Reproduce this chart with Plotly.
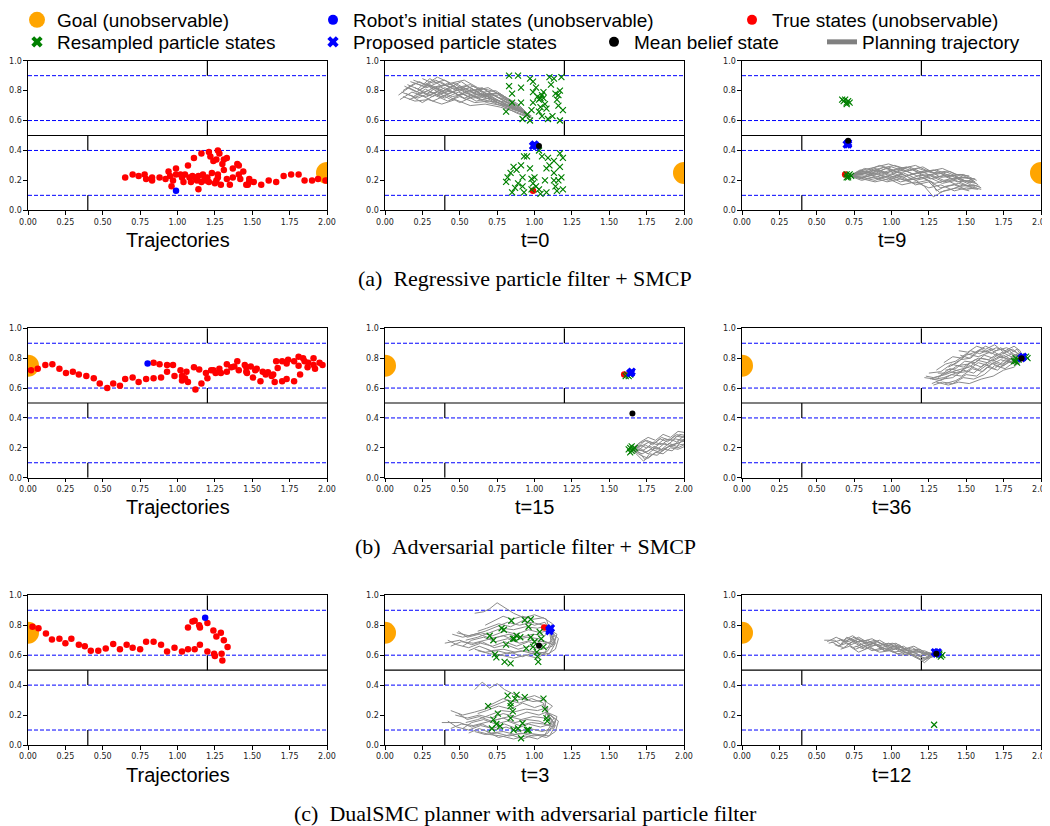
import plotly.graph_objects as go

# page body adds an 8px margin: the figure is drawn 8px smaller and offset
PAGE_W, PAGE_H, OFF = 1050, 826, 8
W, H = PAGE_W - OFF, PAGE_H - OFF

# ---------------- text ----------------
panel_titles = ["Trajectories", "t=0", "t=9",
                "Trajectories", "t=15", "t=36",
                "Trajectories", "t=3", "t=12"]
captions = ["(a)\u2002Regressive particle filter + SMCP",
            "(b)\u2002Adversarial particle filter + SMCP",
            "(c)\u2002DualSMC planner with adversarial particle filter"]
legend_names = ["Goal (unobservable)", "Robot\u2019s initial states (unobservable)",
                "True states (unobservable)", "Resampled particle states",
                "Proposed particle states", "Mean belief state", "Planning trajectory"]
x_ticks = [0.0, 0.25, 0.5, 0.75, 1.0, 1.25, 1.5, 1.75, 2.0]
y_ticks = [0.0, 0.2, 0.4, 0.6, 0.8, 1.0]

# ---------------- environment ----------------
dashed_levels = [0.1, 0.4, 0.6, 0.9]
wall_levels = [0.5]
wall_segments = [(1.2, 0.9, 1.0), (1.2, 0.5, 0.6), (0.4, 0.4, 0.5), (0.4, 0.0, 0.1)]
goal_right = [(2.0, 0.25)]
goal_left = [(0.0, 0.75)]

# ---------------- (a) regressive PF + SMCP ----------------
a1_true = [(0.65,0.22),(0.70,0.24),(0.74,0.23),(0.78,0.24),(0.79,0.21),(0.83,0.20),(0.83,0.22),
           (0.88,0.22),(0.92,0.21),(0.94,0.26),(0.95,0.23),(0.96,0.16),(0.97,0.20),(0.99,0.28),
           (0.99,0.24),(1.02,0.24),(1.03,0.22),(1.04,0.19),(1.05,0.24),(1.07,0.30),(1.08,0.22),
           (1.09,0.19),(1.10,0.23),(1.11,0.35),(1.12,0.22),(1.13,0.20),(1.14,0.14),(1.14,0.23),
           (1.16,0.38),(1.16,0.19),(1.17,0.24),(1.18,0.22),(1.19,0.20),(1.20,0.22),(1.21,0.39),
           (1.21,0.19),(1.22,0.36),(1.23,0.25),(1.24,0.33),(1.25,0.18),(1.26,0.20),(1.26,0.34),
           (1.27,0.24),(1.27,0.22),(1.27,0.40),(1.28,0.38),(1.29,0.17),(1.30,0.31),(1.31,0.27),
           (1.31,0.34),(1.33,0.21),(1.33,0.35),(1.35,0.17),(1.37,0.22),(1.37,0.28),(1.40,0.31),
           (1.41,0.30),(1.41,0.24),(1.42,0.21),(1.44,0.26),(1.46,0.17),(1.47,0.17),(1.48,0.21),
           (1.48,0.19),(1.51,0.19),(1.56,0.17),(1.61,0.20),(1.66,0.19),(1.71,0.23),(1.76,0.24),
           (1.81,0.24),(1.85,0.20),(1.90,0.20),(1.94,0.21),(1.99,0.20)]
a1_init = [(0.99, 0.13)]

a2_plan = [
    [(0.10,0.74),(0.18,0.79),(0.27,0.76),(0.36,0.80),(0.45,0.76),(0.55,0.78),(0.65,0.74),(0.75,0.72),(0.85,0.68),(0.95,0.64)],
    [(0.12,0.80),(0.20,0.85),(0.28,0.82),(0.37,0.86),(0.46,0.81),(0.55,0.83),(0.64,0.78),(0.73,0.77),(0.83,0.71),(0.96,0.63)],
    [(0.15,0.84),(0.22,0.81),(0.30,0.88),(0.38,0.83),(0.47,0.85),(0.56,0.80),(0.66,0.81),(0.76,0.75),(0.86,0.70),(0.97,0.62)],
    [(0.18,0.76),(0.25,0.72),(0.33,0.77),(0.42,0.73),(0.50,0.76),(0.60,0.72),(0.70,0.73),(0.80,0.69),(0.90,0.66),(0.97,0.63)],
    [(0.20,0.82),(0.28,0.78),(0.36,0.83),(0.44,0.79),(0.53,0.82),(0.62,0.77),(0.71,0.78),(0.81,0.73),(0.90,0.68),(0.98,0.62)],
    [(0.25,0.88),(0.32,0.85),(0.40,0.87),(0.48,0.82),(0.57,0.84),(0.66,0.79),(0.74,0.80),(0.83,0.74),(0.92,0.67),(0.97,0.63)],
    [(0.14,0.78),(0.22,0.75),(0.31,0.79),(0.40,0.75),(0.49,0.79),(0.58,0.75),(0.68,0.76),(0.78,0.71),(0.88,0.67),(0.96,0.64)],
    [(0.22,0.80),(0.30,0.84),(0.39,0.80),(0.47,0.84),(0.56,0.79),(0.65,0.82),(0.74,0.76),(0.84,0.73),(0.93,0.66),(0.98,0.63)],
    [(0.28,0.76),(0.35,0.79),(0.44,0.74),(0.52,0.78),(0.61,0.73),(0.70,0.75),(0.79,0.70),(0.88,0.68),(0.95,0.63)],
    [(0.17,0.86),(0.26,0.83),(0.34,0.87),(0.43,0.82),(0.51,0.86),(0.60,0.80),(0.69,0.82),(0.79,0.76),(0.89,0.70),(0.97,0.62)],
    [(0.30,0.82),(0.38,0.78),(0.46,0.82),(0.55,0.76),(0.63,0.80),(0.72,0.74),(0.82,0.72),(0.91,0.66),(0.98,0.62)],
    [(0.12,0.76),(0.20,0.73),(0.29,0.74),(0.38,0.71),(0.47,0.74),(0.57,0.70),(0.67,0.71),(0.77,0.69),(0.87,0.66),(0.95,0.63)],
    [(0.09,0.77),(0.16,0.82),(0.24,0.78),(0.33,0.82),(0.42,0.78),(0.51,0.81),(0.60,0.76),(0.70,0.77),(0.80,0.71),(0.90,0.67),(0.96,0.63)],
    [(0.13,0.83),(0.21,0.79),(0.29,0.84),(0.38,0.79),(0.46,0.83),(0.55,0.78),(0.64,0.80),(0.74,0.74),(0.84,0.70),(0.93,0.65)],
    [(0.19,0.87),(0.27,0.84),(0.35,0.89),(0.44,0.85),(0.53,0.87),(0.62,0.82),(0.71,0.80),(0.80,0.76),(0.89,0.71),(0.97,0.63)],
    [(0.16,0.74),(0.24,0.77),(0.32,0.73),(0.41,0.77),(0.50,0.72),(0.59,0.76),(0.68,0.72),(0.78,0.70),(0.88,0.65),(0.96,0.62)],
    [(0.24,0.79),(0.32,0.76),(0.41,0.81),(0.49,0.77),(0.58,0.81),(0.67,0.76),(0.76,0.77),(0.85,0.71),(0.94,0.65)],
    [(0.11,0.79),(0.19,0.76),(0.27,0.81),(0.35,0.77),(0.44,0.80),(0.53,0.75),(0.62,0.78),(0.72,0.73),(0.82,0.70),(0.92,0.65),(0.97,0.63)],
    [(0.27,0.85),(0.34,0.81),(0.42,0.85),(0.51,0.80),(0.59,0.83),(0.68,0.78),(0.77,0.78),(0.86,0.72),(0.95,0.65)],
    [(0.21,0.77),(0.29,0.80),(0.37,0.76),(0.46,0.79),(0.54,0.74),(0.63,0.78),(0.72,0.75),(0.82,0.70),(0.91,0.67),(0.97,0.62)],
    [(0.14,0.81),(0.23,0.86),(0.31,0.82),(0.40,0.84),(0.48,0.80),(0.57,0.82),(0.66,0.77),(0.75,0.78),(0.85,0.72),(0.94,0.66)],
    [(0.32,0.78),(0.40,0.82),(0.49,0.77),(0.57,0.80),(0.66,0.75),(0.75,0.74),(0.84,0.69),(0.92,0.66),(0.97,0.62)],
]
a2_resampled = [(0.83,0.90),(0.89,0.90),(0.83,0.83),(0.85,0.78),(0.91,0.82),(0.81,0.66),(0.85,0.72),
                (0.91,0.72),(0.92,0.61),(0.95,0.64),(0.97,0.60),(0.97,0.88),(0.99,0.86),(0.99,0.79),
                (0.99,0.72),(1.01,0.82),(1.02,0.76),(1.03,0.66),(1.04,0.69),(1.05,0.63),(1.06,0.79),
                (1.06,0.75),(1.07,0.71),(1.08,0.68),(1.09,0.61),(1.10,0.89),(1.11,0.84),(1.12,0.63),
                (1.13,0.88),(1.14,0.78),(1.15,0.74),(1.16,0.70),(1.17,0.80),(1.17,0.60),(1.18,0.89),
                (1.19,0.67),(1.03,0.74),(1.04,0.75),(0.98,0.67),(1.05,0.77),(1.16,0.77),
                (0.93,0.36),(0.95,0.36),(1.03,0.40),(1.05,0.36),(1.09,0.35),(1.13,0.33),(1.17,0.38),
                (1.19,0.35),(0.86,0.29),(0.88,0.27),(0.84,0.25),(0.81,0.19),(0.82,0.22),(0.91,0.30),
                (0.92,0.22),(0.92,0.16),(0.93,0.12),(0.85,0.12),(0.87,0.15),(0.89,0.18),(0.97,0.28),
                (0.98,0.21),(1.00,0.22),(1.01,0.16),(1.03,0.14),(1.04,0.11),(1.08,0.12),(1.07,0.20),
                (1.08,0.28),(1.10,0.30),(1.13,0.25),(1.14,0.16),(1.15,0.13),(1.16,0.20),(1.17,0.29),
                (1.18,0.22),(1.19,0.14),(1.13,0.20),(0.99,0.18),(0.98,0.14)]
a2_proposed = [(0.99,0.43),(1.00,0.44),(1.01,0.43)]
a2_mean = [(1.03,0.43)]
a2_true = [(0.99,0.13)]

a3_plan = [
    [(0.72,0.23),(0.80,0.26),(0.88,0.24),(0.96,0.28),(1.05,0.25),(1.14,0.27),(1.23,0.23),(1.32,0.25),(1.41,0.21),(1.50,0.22),(1.56,0.19)],
    [(0.72,0.23),(0.80,0.21),(0.89,0.25),(0.98,0.22),(1.07,0.24),(1.16,0.20),(1.25,0.22),(1.34,0.18),(1.43,0.20),(1.52,0.16),(1.60,0.14)],
    [(0.72,0.23),(0.81,0.27),(0.90,0.29),(0.98,0.31),(1.07,0.28),(1.16,0.30),(1.25,0.26),(1.34,0.28),(1.43,0.24),(1.52,0.23)],
    [(0.72,0.23),(0.80,0.22),(0.89,0.20),(0.97,0.23),(1.06,0.19),(1.15,0.21),(1.22,0.16),(1.28,0.09),(1.35,0.13),(1.44,0.15),(1.52,0.13)],
    [(0.72,0.23),(0.81,0.25),(0.90,0.22),(0.99,0.26),(1.08,0.22),(1.17,0.25),(1.26,0.21),(1.35,0.23),(1.44,0.19),(1.53,0.20),(1.58,0.17)],
    [(0.72,0.23),(0.82,0.28),(0.91,0.26),(1.00,0.29),(1.09,0.26),(1.18,0.28),(1.27,0.25),(1.36,0.26),(1.45,0.22),(1.55,0.21)],
    [(0.72,0.23),(0.80,0.20),(0.88,0.22),(0.97,0.19),(1.06,0.21),(1.15,0.18),(1.24,0.20),(1.33,0.15),(1.42,0.17),(1.50,0.14),(1.57,0.15)],
    [(0.72,0.23),(0.81,0.24),(0.90,0.27),(0.99,0.24),(1.08,0.27),(1.17,0.23),(1.26,0.24),(1.35,0.20),(1.44,0.22),(1.53,0.18)],
    [(0.72,0.23),(0.80,0.25),(0.89,0.23),(0.98,0.20),(1.07,0.23),(1.16,0.17),(1.25,0.19),(1.32,0.12),(1.40,0.14),(1.48,0.17),(1.56,0.16)],
    [(0.72,0.23),(0.82,0.26),(0.92,0.30),(1.01,0.27),(1.10,0.29),(1.19,0.25),(1.28,0.27),(1.37,0.23),(1.46,0.24),(1.55,0.20)],
    [(0.72,0.23),(0.79,0.27),(0.87,0.25),(0.95,0.29),(1.03,0.26),(1.12,0.29),(1.21,0.25),(1.30,0.27),(1.39,0.23),(1.48,0.24),(1.57,0.20)],
    [(0.72,0.23),(0.81,0.22),(0.90,0.24),(0.99,0.21),(1.08,0.25),(1.17,0.21),(1.26,0.23),(1.35,0.19),(1.44,0.21),(1.53,0.17),(1.59,0.16)],
    [(0.72,0.23),(0.80,0.24),(0.89,0.28),(0.97,0.25),(1.06,0.28),(1.15,0.24),(1.24,0.27),(1.33,0.22),(1.42,0.23),(1.51,0.19),(1.57,0.18)],
    [(0.72,0.23),(0.81,0.21),(0.89,0.19),(0.98,0.21),(1.07,0.17),(1.16,0.19),(1.25,0.15),(1.33,0.17),(1.42,0.13),(1.50,0.15),(1.58,0.14)],
    [(0.72,0.23),(0.80,0.26),(0.90,0.24),(1.00,0.27),(1.10,0.23),(1.20,0.26),(1.29,0.22),(1.38,0.24),(1.47,0.20),(1.55,0.19)],
    [(0.72,0.23),(0.82,0.25),(0.92,0.28),(1.02,0.30),(1.12,0.27),(1.21,0.29),(1.30,0.24),(1.39,0.26),(1.48,0.22),(1.56,0.21)],
    [(0.72,0.23),(0.81,0.23),(0.91,0.21),(1.01,0.24),(1.11,0.20),(1.20,0.22),(1.29,0.18),(1.37,0.20),(1.46,0.16),(1.55,0.17),(1.60,0.15)],
    [(0.72,0.23),(0.80,0.22),(0.90,0.26),(1.00,0.23),(1.09,0.20),(1.18,0.23),(1.27,0.19),(1.30,0.13),(1.36,0.16),(1.45,0.18),(1.54,0.15)],
]
a3_resampled = [(0.67,0.74),(0.68,0.73),(0.70,0.72),(0.71,0.73),(0.72,0.72),(0.70,0.71),(0.69,0.74),
                (0.70,0.24),(0.71,0.23),(0.72,0.24),(0.71,0.22),(0.73,0.23),(0.70,0.22)]
a3_proposed = [(0.70,0.44),(0.71,0.45),(0.71,0.44)]
a3_mean = [(0.71,0.465)]
a3_true = [(0.69,0.24)]

# ---------------- (b) adversarial PF + SMCP ----------------
b1_true = [(0.02,0.72),(0.065,0.73),(0.116,0.755),(0.163,0.76),(0.21,0.73),(0.254,0.70),(0.30,0.71),
           (0.34,0.69),(0.39,0.68),(0.44,0.665),(0.48,0.63),(0.53,0.60),(0.57,0.63),(0.615,0.616),
           (0.65,0.66),(0.70,0.67),(0.74,0.64),(0.79,0.66),(0.84,0.665),(0.89,0.67),(0.84,0.77),
           (0.88,0.76),(0.93,0.755),(0.93,0.71),(0.97,0.755),(0.98,0.68),(1.02,0.72),(1.03,0.68),
           (1.03,0.65),(1.05,0.665),(1.06,0.71),(1.07,0.64),(1.11,0.74),(1.12,0.59),(1.145,0.725),
           (1.16,0.63),(1.19,0.70),(1.20,0.665),(1.225,0.72),(1.24,0.72),(1.255,0.70),(1.28,0.73),
           (1.29,0.70),(1.33,0.71),(1.33,0.76),(1.36,0.74),(1.38,0.745),(1.40,0.78),(1.41,0.72),
           (1.45,0.755),(1.46,0.74),(1.46,0.71),(1.465,0.70),(1.49,0.745),(1.505,0.67),(1.52,0.72),
           (1.53,0.73),(1.555,0.645),(1.57,0.71),(1.59,0.69),(1.605,0.705),(1.63,0.68),(1.64,0.69),
           (1.65,0.64),(1.66,0.78),(1.67,0.735),(1.70,0.78),(1.70,0.645),(1.73,0.765),(1.73,0.66),
           (1.74,0.79),(1.78,0.78),(1.78,0.645),(1.81,0.81),(1.81,0.75),(1.82,0.69),(1.84,0.80),
           (1.85,0.78),(1.87,0.74),(1.875,0.77),(1.91,0.80),(1.91,0.755),(1.92,0.73),(1.95,0.77),
           (1.97,0.755)]
b1_init = [(0.80, 0.765)]

b2_plan = [
    [(1.65,0.19),(1.70,0.22),(1.75,0.20),(1.80,0.24),(1.85,0.22),(1.90,0.26),(1.95,0.24),(2.00,0.28),(2.05,0.27)],
    [(1.65,0.19),(1.70,0.17),(1.74,0.12),(1.78,0.15),(1.83,0.18),(1.88,0.20),(1.93,0.22),(1.98,0.24),(2.05,0.25)],
    [(1.65,0.19),(1.71,0.24),(1.76,0.27),(1.81,0.25),(1.86,0.29),(1.91,0.27),(1.96,0.31),(2.02,0.30)],
    [(1.65,0.19),(1.70,0.20),(1.75,0.17),(1.80,0.21),(1.85,0.19),(1.90,0.23),(1.95,0.21),(2.00,0.26),(2.05,0.24)],
    [(1.65,0.19),(1.70,0.14),(1.73,0.11),(1.77,0.16),(1.82,0.15),(1.87,0.19),(1.92,0.18),(1.97,0.22),(2.04,0.23)],
    [(1.65,0.19),(1.71,0.21),(1.77,0.24),(1.82,0.22),(1.87,0.26),(1.92,0.25),(1.97,0.29),(2.03,0.28)],
    [(1.65,0.19),(1.69,0.18),(1.74,0.22),(1.79,0.19),(1.84,0.23),(1.89,0.22),(1.94,0.26),(1.99,0.25),(2.05,0.29)],
    [(1.65,0.19),(1.72,0.16),(1.78,0.19),(1.84,0.17),(1.90,0.21),(1.96,0.20),(2.02,0.23)],
    [(1.65,0.19),(1.70,0.23),(1.75,0.25),(1.80,0.23),(1.85,0.27),(1.90,0.25),(1.95,0.29),(2.00,0.27),(2.05,0.31)],
    [(1.65,0.19),(1.70,0.19),(1.76,0.16),(1.81,0.20),(1.86,0.18),(1.91,0.22),(1.96,0.23),(2.02,0.26)],
    [(1.65,0.19),(1.71,0.15),(1.76,0.13),(1.81,0.17),(1.86,0.16),(1.91,0.20),(1.96,0.19),(2.03,0.22)],
    [(1.65,0.19),(1.70,0.21),(1.74,0.25),(1.79,0.22),(1.84,0.26),(1.89,0.24),(1.94,0.28),(1.99,0.27),(2.05,0.30)],
    [(1.65,0.19),(1.72,0.18),(1.77,0.21),(1.82,0.19),(1.87,0.23),(1.92,0.21),(1.97,0.25),(2.03,0.26)],
]
b2_resampled = [(1.61,0.68),(1.62,0.69),(1.63,0.68),(1.64,0.69),
                (1.63,0.19),(1.64,0.20),(1.65,0.18),(1.66,0.19),(1.65,0.21),(1.64,0.17),(1.67,0.20)]
b2_proposed = [(1.64,0.70),(1.65,0.71),(1.645,0.70)]
b2_mean = [(1.655,0.43)]
b2_true = [(1.60,0.69)]

b3_plan = [
    [(1.88,0.80),(1.82,0.78),(1.75,0.82),(1.68,0.78),(1.60,0.80),(1.52,0.74),(1.44,0.72),(1.36,0.69),(1.28,0.67),(1.23,0.68)],
    [(1.88,0.80),(1.83,0.84),(1.77,0.87),(1.70,0.85),(1.63,0.88),(1.56,0.84),(1.50,0.82),(1.44,0.77),(1.38,0.74)],
    [(1.88,0.80),(1.82,0.74),(1.75,0.72),(1.68,0.68),(1.60,0.66),(1.52,0.63),(1.45,0.64),(1.38,0.62),(1.30,0.64)],
    [(1.88,0.80),(1.81,0.80),(1.74,0.76),(1.67,0.79),(1.60,0.74),(1.53,0.77),(1.46,0.71),(1.39,0.73),(1.32,0.68),(1.26,0.66)],
    [(1.88,0.80),(1.84,0.86),(1.79,0.83),(1.73,0.87),(1.67,0.83),(1.60,0.86),(1.53,0.80),(1.46,0.79),(1.40,0.75)],
    [(1.88,0.80),(1.82,0.77),(1.76,0.79),(1.69,0.73),(1.62,0.76),(1.55,0.70),(1.48,0.72),(1.41,0.67),(1.34,0.66),(1.27,0.63)],
    [(1.88,0.80),(1.85,0.83),(1.80,0.81),(1.74,0.84),(1.68,0.80),(1.62,0.82),(1.56,0.77),(1.49,0.78),(1.43,0.73),(1.36,0.72)],
    [(1.88,0.80),(1.83,0.76),(1.77,0.78),(1.71,0.72),(1.64,0.74),(1.57,0.68),(1.50,0.69),(1.43,0.65),(1.36,0.63)],
    [(1.88,0.80),(1.86,0.85),(1.82,0.88),(1.76,0.85),(1.70,0.87),(1.64,0.84),(1.58,0.85),(1.52,0.80),(1.46,0.82)],
    [(1.88,0.80),(1.80,0.79),(1.72,0.81),(1.64,0.77),(1.56,0.79),(1.48,0.74),(1.40,0.76),(1.33,0.71),(1.25,0.70)],
    [(1.88,0.80),(1.81,0.83),(1.74,0.80),(1.66,0.84),(1.58,0.81),(1.50,0.83),(1.43,0.78),(1.36,0.76),(1.30,0.72)],
    [(1.88,0.80),(1.82,0.81),(1.75,0.75),(1.68,0.77),(1.61,0.71),(1.54,0.73),(1.47,0.68),(1.40,0.69),(1.33,0.65),(1.27,0.66)],
    [(1.88,0.80),(1.84,0.79),(1.79,0.85),(1.72,0.82),(1.66,0.86),(1.59,0.83),(1.53,0.85),(1.47,0.80),(1.41,0.81),(1.35,0.77)],
    [(1.88,0.80),(1.83,0.78),(1.76,0.73),(1.69,0.75),(1.62,0.69),(1.55,0.66),(1.48,0.67),(1.41,0.63),(1.34,0.64),(1.28,0.62)],
    [(1.88,0.80),(1.85,0.76),(1.80,0.78),(1.73,0.74),(1.66,0.77),(1.59,0.72),(1.52,0.75),(1.45,0.70),(1.38,0.71),(1.31,0.67)],
    [(1.88,0.80),(1.86,0.82),(1.81,0.86),(1.75,0.84),(1.69,0.89),(1.63,0.86),(1.57,0.88),(1.51,0.84),(1.45,0.85)],
    [(1.88,0.80),(1.80,0.77),(1.73,0.79),(1.65,0.75),(1.58,0.77),(1.50,0.71),(1.43,0.70),(1.35,0.67),(1.29,0.66),(1.22,0.67)],
    [(1.88,0.80),(1.83,0.82),(1.78,0.79),(1.71,0.83),(1.65,0.79),(1.58,0.80),(1.51,0.76),(1.44,0.75),(1.37,0.70),(1.31,0.70)],
]
b3_resampled = [(1.82,0.78),(1.83,0.80),(1.84,0.77),(1.85,0.79),(1.83,0.78),(1.90,0.81),(1.91,0.80)]
b3_proposed = [(1.87,0.80),(1.88,0.81)]
b3_mean = [(1.87,0.80)]
b3_true = [(1.87,0.80)]

# ---------------- (c) DualSMC ----------------
c1_true = [(0.03,0.79),(0.07,0.78),(0.12,0.745),(0.16,0.705),(0.21,0.71),(0.25,0.68),(0.29,0.71),
           (0.34,0.67),(0.38,0.66),(0.42,0.63),(0.47,0.63),(0.52,0.645),(0.57,0.675),(0.615,0.64),
           (0.66,0.67),(0.70,0.65),(0.75,0.64),(0.79,0.69),(0.84,0.69),(0.89,0.67),(0.93,0.625),
           (0.98,0.65),(1.03,0.625),(1.07,0.64),(1.07,0.785),(1.10,0.825),(1.115,0.83),(1.115,0.64),
           (1.145,0.80),(1.15,0.785),(1.15,0.67),(1.20,0.815),(1.20,0.625),(1.24,0.765),(1.245,0.61),
           (1.25,0.595),(1.26,0.725),(1.29,0.75),(1.295,0.61),(1.30,0.565),(1.31,0.70),(1.335,0.655)]
c1_init = [(1.185, 0.85)]

c2_plan = [
    [(1.10,0.77),(1.14,0.72),(1.12,0.66),(1.05,0.64),(0.97,0.66),(0.89,0.64),(0.81,0.67),(0.73,0.65),(0.65,0.69),(0.58,0.67),(0.50,0.70),(0.40,0.68)],
    [(1.10,0.77),(1.12,0.70),(1.07,0.62),(0.99,0.61),(0.91,0.63),(0.83,0.61),(0.75,0.63),(0.67,0.62),(0.60,0.64)],
    [(1.10,0.77),(1.06,0.80),(0.98,0.82),(0.90,0.80),(0.82,0.82),(0.74,0.79),(0.67,0.76),(0.60,0.74),(0.52,0.72),(0.45,0.74)],
    [(1.10,0.77),(1.08,0.84),(1.00,0.87),(0.93,0.85),(0.86,0.88),(0.80,0.92),(0.75,0.95),(0.70,0.91),(0.66,0.89),(0.60,0.88)],
    [(1.10,0.77),(1.15,0.74),(1.13,0.67),(1.06,0.69),(0.98,0.70),(0.90,0.68),(0.82,0.71),(0.74,0.69),(0.66,0.72),(0.58,0.70),(0.52,0.66)],
    [(1.10,0.77),(1.04,0.75),(0.96,0.77),(0.88,0.74),(0.80,0.76),(0.72,0.73),(0.64,0.75),(0.56,0.73),(0.48,0.75)],
    [(1.10,0.77),(1.13,0.70),(1.09,0.63),(1.02,0.58),(0.94,0.60),(0.86,0.58),(0.78,0.60),(0.70,0.61),(0.62,0.63)],
    [(1.10,0.77),(1.07,0.82),(1.00,0.80),(0.92,0.83),(0.84,0.79),(0.76,0.81),(0.68,0.78),(0.62,0.76)],
    [(1.10,0.77),(1.11,0.69),(1.04,0.67),(0.96,0.69),(0.88,0.66),(0.80,0.69),(0.72,0.66),(0.64,0.68),(0.56,0.65),(0.48,0.67),(0.42,0.70)],
    [(1.10,0.77),(1.16,0.71),(1.14,0.64),(1.08,0.60),(1.00,0.62),(0.92,0.59),(0.84,0.62),(0.76,0.60),(0.68,0.64)],
    [(1.10,0.77),(1.13,0.73),(1.10,0.68),(1.03,0.71),(0.95,0.72),(0.87,0.70),(0.79,0.73),(0.71,0.71),(0.63,0.74),(0.55,0.72),(0.49,0.76)],
    [(1.10,0.77),(1.09,0.80),(1.02,0.78),(0.94,0.79),(0.86,0.77),(0.78,0.78),(0.70,0.75),(0.62,0.72),(0.54,0.70)],
    [(1.10,0.77),(1.14,0.68),(1.10,0.61),(1.03,0.62),(0.95,0.63),(0.87,0.62),(0.79,0.64),(0.71,0.63),(0.63,0.66),(0.56,0.63)],
    [(1.10,0.77),(1.12,0.81),(1.06,0.85),(0.99,0.84),(0.92,0.86),(0.85,0.84),(0.79,0.86),(0.73,0.83),(0.67,0.80)],
    [(1.10,0.77),(1.07,0.73),(0.99,0.74),(0.91,0.72),(0.83,0.74),(0.75,0.72),(0.67,0.70),(0.59,0.68),(0.51,0.69),(0.44,0.66)],
    [(1.08,0.22),(1.14,0.17),(1.12,0.11),(1.05,0.09),(0.97,0.11),(0.89,0.09),(0.81,0.12),(0.73,0.10),(0.65,0.14),(0.58,0.12),(0.50,0.15),(0.38,0.15)],
    [(1.08,0.22),(1.12,0.15),(1.07,0.07),(0.99,0.06),(0.91,0.08),(0.83,0.06),(0.75,0.08),(0.67,0.07),(0.60,0.09)],
    [(1.08,0.22),(1.06,0.28),(0.98,0.31),(0.90,0.28),(0.82,0.30),(0.74,0.27),(0.67,0.24),(0.60,0.22),(0.52,0.20),(0.44,0.23)],
    [(1.08,0.22),(1.07,0.30),(1.00,0.33),(0.93,0.31),(0.86,0.34),(0.80,0.37),(0.75,0.41),(0.70,0.38),(0.65,0.42),(0.60,0.37)],
    [(1.08,0.22),(1.15,0.19),(1.13,0.12),(1.06,0.14),(0.98,0.15),(0.90,0.13),(0.82,0.16),(0.74,0.14),(0.66,0.17),(0.58,0.15),(0.52,0.11)],
    [(1.08,0.22),(1.03,0.20),(0.95,0.22),(0.87,0.19),(0.79,0.21),(0.71,0.18),(0.63,0.20),(0.55,0.18),(0.47,0.20)],
    [(1.08,0.22),(1.13,0.15),(1.09,0.08),(1.02,0.04),(0.94,0.06),(0.86,0.04),(0.78,0.06),(0.70,0.07),(0.62,0.09)],
    [(1.08,0.22),(1.06,0.27),(1.00,0.25),(0.92,0.28),(0.84,0.24),(0.76,0.26),(0.68,0.23),(0.62,0.21)],
    [(1.08,0.22),(1.11,0.14),(1.04,0.12),(0.96,0.14),(0.88,0.11),(0.80,0.14),(0.72,0.11),(0.64,0.13),(0.56,0.10),(0.48,0.12),(0.42,0.16)],
    [(1.08,0.22),(1.16,0.16),(1.14,0.09),(1.08,0.05),(1.00,0.07),(0.92,0.04),(0.84,0.07),(0.76,0.05),(0.68,0.09)],
    [(1.08,0.22),(1.13,0.18),(1.10,0.13),(1.03,0.16),(0.95,0.17),(0.87,0.15),(0.79,0.18),(0.71,0.16),(0.63,0.19),(0.55,0.17),(0.49,0.21)],
    [(1.08,0.22),(1.09,0.25),(1.02,0.23),(0.94,0.24),(0.86,0.22),(0.78,0.23),(0.70,0.20),(0.62,0.17),(0.54,0.15)],
    [(1.08,0.22),(1.14,0.13),(1.10,0.06),(1.03,0.07),(0.95,0.08),(0.87,0.07),(0.79,0.09),(0.71,0.08),(0.63,0.11),(0.56,0.08)],
    [(1.08,0.22),(1.12,0.26),(1.06,0.30),(0.99,0.29),(0.92,0.31),(0.85,0.29),(0.79,0.31),(0.73,0.28),(0.67,0.25)],
    [(1.08,0.22),(1.07,0.18),(0.99,0.19),(0.91,0.17),(0.83,0.19),(0.75,0.17),(0.67,0.15),(0.59,0.13),(0.51,0.14),(0.44,0.11)],
]
c2_resampled = [(0.70,0.73),(0.725,0.70),(0.735,0.605),(0.745,0.585),(0.78,0.78),(0.795,0.77),
                (0.81,0.67),(0.80,0.555),(0.84,0.545),(0.845,0.83),(0.855,0.71),(0.865,0.71),
                (0.88,0.73),(0.905,0.72),(0.935,0.835),(0.945,0.645),(0.96,0.79),(0.975,0.84),
                (0.975,0.72),(0.99,0.655),(1.00,0.69),(1.015,0.62),(1.02,0.59),(1.025,0.555),
                (1.035,0.755),(1.045,0.71),(1.06,0.655),
                (0.69,0.26),(0.755,0.21),(0.725,0.17),(0.715,0.11),(0.745,0.14),(0.77,0.125),
                (0.82,0.33),(0.84,0.28),(0.84,0.26),(0.855,0.225),(0.84,0.18),(0.87,0.31),
                (0.88,0.335),(0.89,0.11),(0.86,0.10),(0.92,0.145),(0.91,0.045),(0.935,0.32),
                (0.95,0.10),(0.96,0.10),(1.06,0.31),(1.07,0.24),(1.08,0.18),(1.085,0.16)]
c2_proposed = [(1.10,0.77),(1.11,0.78),(1.10,0.76)]
c2_mean = [(1.03,0.665)]
c2_true = [(1.065,0.785)]

c3_plan = [
    [(0.55,0.70),(0.62,0.70),(0.66,0.67),(0.72,0.71),(0.79,0.67),(0.86,0.69),(0.93,0.65),(1.00,0.67),(1.07,0.63),(1.14,0.65),(1.21,0.61),(1.28,0.61)],
    [(0.60,0.69),(0.65,0.66),(0.70,0.72),(0.77,0.69),(0.84,0.70),(0.91,0.66),(0.98,0.68),(1.05,0.64),(1.12,0.63),(1.19,0.60),(1.27,0.61)],
    [(0.64,0.66),(0.70,0.68),(0.76,0.64),(0.83,0.67),(0.90,0.63),(0.97,0.65),(1.04,0.61),(1.11,0.62),(1.18,0.58),(1.22,0.55),(1.28,0.60)],
    [(0.68,0.70),(0.74,0.73),(0.80,0.69),(0.87,0.71),(0.94,0.67),(1.01,0.68),(1.08,0.64),(1.15,0.66),(1.22,0.62),(1.29,0.61)],
    [(0.66,0.64),(0.72,0.66),(0.78,0.62),(0.85,0.65),(0.92,0.62),(0.99,0.63),(1.06,0.60),(1.13,0.61),(1.20,0.57),(1.27,0.60)],
    [(0.58,0.68),(0.66,0.70),(0.73,0.67),(0.80,0.70),(0.87,0.66),(0.94,0.68),(1.01,0.64),(1.08,0.66),(1.15,0.62),(1.22,0.63),(1.29,0.60)],
    [(0.70,0.67),(0.76,0.70),(0.82,0.66),(0.89,0.68),(0.96,0.64),(1.03,0.66),(1.10,0.61),(1.17,0.63),(1.24,0.59),(1.28,0.61)],
    [(0.74,0.65),(0.80,0.67),(0.87,0.63),(0.94,0.65),(1.01,0.62),(1.08,0.63),(1.15,0.59),(1.21,0.56),(1.27,0.60)],
    [(0.57,0.69),(0.63,0.72),(0.69,0.69),(0.75,0.72),(0.82,0.68),(0.89,0.70),(0.96,0.66),(1.03,0.68),(1.10,0.63),(1.17,0.64),(1.24,0.60),(1.28,0.62)],
    [(0.62,0.67),(0.68,0.65),(0.74,0.69),(0.81,0.65),(0.88,0.68),(0.95,0.63),(1.02,0.65),(1.09,0.62),(1.16,0.60),(1.23,0.58),(1.28,0.60)],
    [(0.72,0.68),(0.78,0.71),(0.84,0.67),(0.91,0.69),(0.98,0.65),(1.05,0.67),(1.12,0.62),(1.19,0.64),(1.25,0.60)],
    [(0.76,0.66),(0.82,0.64),(0.89,0.67),(0.96,0.63),(1.03,0.64),(1.10,0.60),(1.17,0.61),(1.22,0.57),(1.28,0.59)],
    [(0.65,0.71),(0.71,0.69),(0.78,0.72),(0.85,0.68),(0.92,0.70),(0.99,0.66),(1.06,0.66),(1.13,0.62),(1.20,0.62),(1.27,0.60)],
]
c3_resampled = [(1.32,0.60),(1.33,0.59),(1.34,0.60),(1.32,0.61),(1.285,0.135)]
c3_proposed = [(1.29,0.62),(1.30,0.61),(1.31,0.62)]
c3_mean = [(1.30,0.61)]
c3_true = [(1.30,0.61)]

panels = [
    dict(goal=goal_right, true=a1_true, init=a1_init),
    dict(goal=goal_right, plan=a2_plan, true=a2_true, resampled=a2_resampled, proposed=a2_proposed, mean=a2_mean),
    dict(goal=goal_right, plan=a3_plan, true=a3_true, resampled=a3_resampled, proposed=a3_proposed, mean=a3_mean),
    dict(goal=goal_left, true=b1_true, init=b1_init),
    dict(goal=goal_left, plan=b2_plan, true=b2_true, resampled=b2_resampled, proposed=b2_proposed, mean=b2_mean),
    dict(goal=goal_left, plan=b3_plan, true=b3_true, mean=b3_mean, resampled=b3_resampled, proposed=b3_proposed),
    dict(goal=goal_left, true=c1_true, init=c1_init),
    dict(goal=goal_left, plan=c2_plan, true=c2_true, resampled=c2_resampled, proposed=c2_proposed, mean=c2_mean),
    dict(goal=goal_left, plan=c3_plan, true=c3_true, mean=c3_mean, resampled=c3_resampled, proposed=c3_proposed),
]

# ---------------- layout geometry (page pixels) ----------------
col_px = [(28, 327), (385, 684), (742, 1041)]
row_px = [(60.7, 210.3), (328.3, 477.7), (595.3, 745.0)]
title_py = [240, 507, 775]
caption_py = [278, 546, 813]

def px_x(p):
    return (p - OFF) / W

def px_y(p):
    return 1 - (p - OFF) / H

GREEN = "#008000"
styles = {
    "goal": dict(mode="markers", marker=dict(color="#FFA500", size=22)),
    "true": dict(mode="markers", marker=dict(color="#FF0000", size=6.5)),
    "init": dict(mode="markers", marker=dict(color="#0000FF", size=6.5)),
    "resampled": dict(mode="markers", marker=dict(symbol="x-thin", size=6, color=GREEN,
                                                  line=dict(color=GREEN, width=1.2))),
    "proposed": dict(mode="markers", marker=dict(symbol="x", size=7.5, color="#0000FF",
                                                 line=dict(width=0))),
    "mean": dict(mode="markers", marker=dict(color="#000000", size=6)),
}

fig = go.Figure()
layout_axes = {}
shapes = []
annotations = []

def unzip(pts):
    return [p[0] for p in pts], [p[1] for p in pts]

for k, pan in enumerate(panels):
    r, c = divmod(k, 3)
    n = "" if k == 0 else str(k + 1)
    xa, ya = "x" + n, "y" + n
    x0, x1 = col_px[c]
    y0, y1 = row_px[r]
    common = dict(showgrid=False, zeroline=False, showline=True, linecolor="black", linewidth=1.2,
                  mirror=True, ticks="outside", ticklen=3.5, tickwidth=1, tickcolor="black",
                  tickfont=dict(family="DejaVu Sans", size=8, color="#222"), fixedrange=True)
    layout_axes["xaxis" + n] = dict(common, domain=[px_x(x0), px_x(x1)], range=[0, 2],
                                    tickvals=x_ticks, tickformat=".2f", anchor=ya)
    layout_axes["yaxis" + n] = dict(common, domain=[px_y(y1), px_y(y0)], range=[0, 1],
                                    tickvals=y_ticks, tickformat=".1f", anchor=xa)
    for lv in dashed_levels:
        shapes.append(dict(type="line", xref=xa, yref=ya, x0=0, x1=2, y0=lv, y1=lv, layer="below",
                           line=dict(color="#0000FF", width=1, dash="4px,2px")))
    for lv in wall_levels:
        shapes.append(dict(type="line", xref=xa, yref=ya, x0=0, x1=2, y0=lv, y1=lv, layer="below",
                           line=dict(color="black", width=1.2)))
    for (wx, wy0, wy1) in wall_segments:
        shapes.append(dict(type="line", xref=xa, yref=ya, x0=wx, x1=wx, y0=wy0, y1=wy1, layer="below",
                           line=dict(color="black", width=1.2)))
    xs, ys = unzip(pan["goal"])
    fig.add_trace(go.Scatter(x=xs, y=ys, xaxis=xa, yaxis=ya, showlegend=False, hoverinfo="skip", **styles["goal"]))
    if "plan" in pan:
        px_, py_ = [], []
        for tr in pan["plan"]:
            tx, ty = unzip(tr)
            px_ += tx + [None]
            py_ += ty + [None]
        fig.add_trace(go.Scatter(x=px_, y=py_, xaxis=xa, yaxis=ya, mode="lines", showlegend=False,
                                 line=dict(color="#8a8a8a", width=1), hoverinfo="skip"))
    for key in ["true", "init", "resampled", "proposed", "mean"]:
        if key in pan:
            xs, ys = unzip(pan[key])
            fig.add_trace(go.Scatter(x=xs, y=ys, xaxis=xa, yaxis=ya, showlegend=False,
                                     hoverinfo="skip", **styles[key]))
    annotations.append(dict(text=panel_titles[k], xref="paper", yref="paper",
                            x=px_x((x0 + x1) / 2), y=px_y(title_py[r]), xanchor="center", yanchor="middle",
                            showarrow=False, font=dict(family="Liberation Sans, Arial", size=20, color="black")))

for r in range(3):
    annotations.append(dict(text=captions[r], xref="paper", yref="paper", x=px_x(525), y=px_y(caption_py[r]),
                            xanchor="center", yanchor="middle", showarrow=False,
                            font=dict(family="Liberation Serif, Times New Roman", size=22, color="black")))

# ---------------- legend (one legend box per entry, placed like the reference) ----------------
LOFF = 40  # distance from a legend's left edge to its text
legend_specs = [
    (legend_names[0], dict(mode="markers", marker=dict(color="#FFA500", size=16)), 57, 20),
    (legend_names[1], dict(mode="markers", marker=dict(color="#0000FF", size=10)), 353, 20),
    (legend_names[2], dict(mode="markers", marker=dict(color="#FF0000", size=10)), 772, 20),
    (legend_names[3], dict(mode="markers", marker=dict(symbol="x", color=GREEN, size=10, line=dict(width=0))), 57, 42),
    (legend_names[4], dict(mode="markers", marker=dict(symbol="x", color="#0000FF", size=10, line=dict(width=0))), 353, 42),
    (legend_names[5], dict(mode="markers", marker=dict(color="#000000", size=10)), 634, 42),
    (legend_names[6], dict(mode="lines", line=dict(color="#808080", width=5)), 862, 42),
]
legend_layout = {}
for i, (name, sty, tx, ly) in enumerate(legend_specs):
    lid = "legend" if i == 0 else "legend" + str(i + 1)
    fig.add_trace(go.Scatter(x=[None], y=[None], name=name, legend=lid, showlegend=True,
                             xaxis="x", yaxis="y", **sty))
    legend_layout[lid] = dict(x=px_x(tx - LOFF), y=px_y(ly), xanchor="left", yanchor="middle",
                              bgcolor="rgba(0,0,0,0)", borderwidth=0, itemsizing="trace",
                              font=dict(family="Liberation Sans, Arial", size=19, color="black"))

fig.update_layout(width=W, height=H, margin=dict(l=0, r=0, t=0, b=0, autoexpand=False),
                  paper_bgcolor="white", plot_bgcolor="white",
                  shapes=shapes, annotations=annotations, **layout_axes, **legend_layout)

fig.write_html("out.html")
